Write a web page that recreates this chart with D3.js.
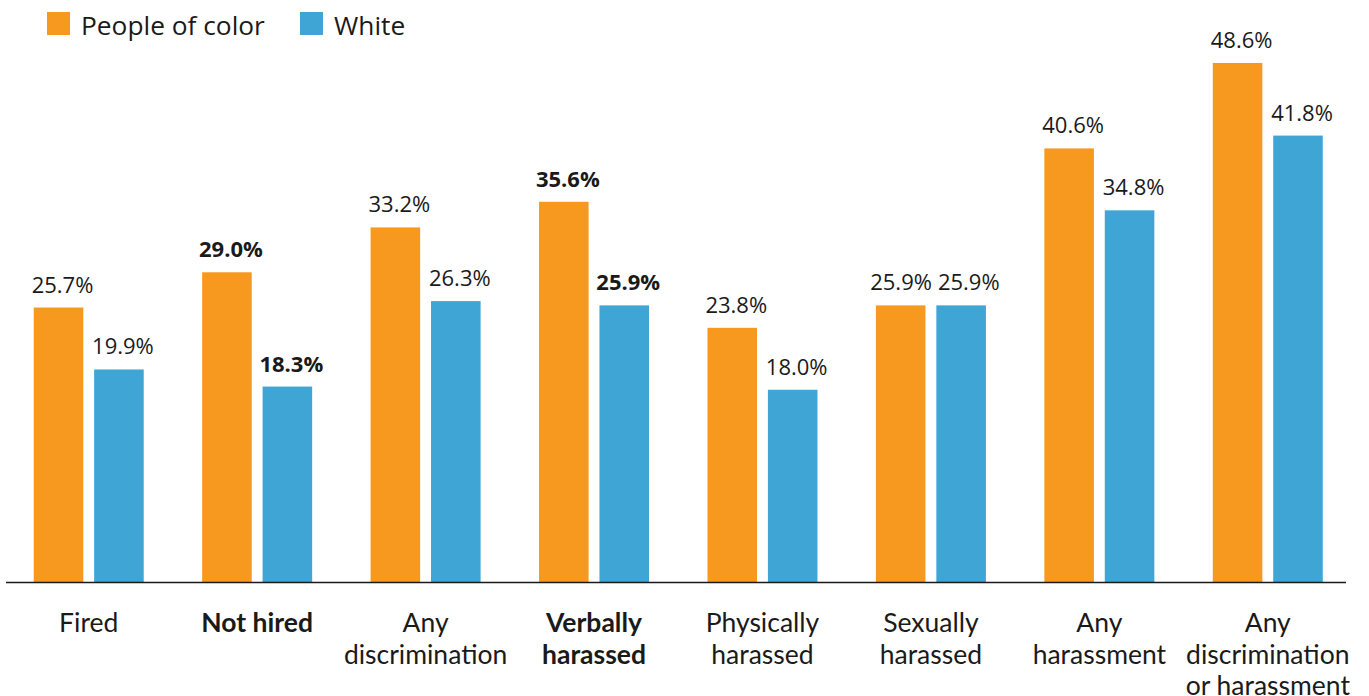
<!DOCTYPE html>
<html>
<head>
<meta charset="utf-8">
<script src="https://cdn.jsdelivr.net/npm/d3@7"></script>
<style>
html,body{margin:0;padding:0;background:#fff;}
svg{display:block;}
</style>
</head>
<body>
<svg id="chart" width="1369" height="696"></svg>
<script>
const categories = [
  ["Fired"],
  ["Not hired"],
  ["Any", "discrimination"],
  ["Verbally", "harassed"],
  ["Physically", "harassed"],
  ["Sexually", "harassed"],
  ["Any", "harassment"],
  ["Any", "discrimination", "or harassment"]
];
const boldCategories = [false, true, false, true, false, false, false, false];
const seriesNames = ["People of color", "White"];
const peopleOfColor = [25.7, 29.0, 33.2, 35.6, 23.8, 25.9, 40.6, 48.6];
const white = [19.9, 18.3, 26.3, 25.9, 18.0, 25.9, 34.8, 41.8];
const boldPOC = [false, true, false, true, false, false, false, false];
const boldWhite = [false, true, false, true, false, false, false, false];
const colors = ["#F7991F", "#3FA5D4"];

const svg = d3.select("#chart");
const baseY = 582;
const y = d3.scaleLinear().domain([0, 50]).range([baseY, baseY - 534]);
const keys = categories.map((c, i) => i);
const x0 = d3.scaleBand().domain(keys).range([4.5, 1352]).paddingInner(0.347).paddingOuter(0.1735);
const x1 = d3.scaleBand().domain([0, 1]).range([0, x0.bandwidth()]).paddingInner(0.18).paddingOuter(0);

const data = keys.map(i => ({
  i,
  vals: [
    {s: 0, v: peopleOfColor[i], b: boldPOC[i]},
    {s: 1, v: white[i], b: boldWhite[i]}
  ]
}));

const g = svg.selectAll("g.grp").data(data).enter().append("g")
  .attr("class", "grp")
  .attr("transform", d => `translate(${x0(d.i)},0)`);

g.selectAll("rect").data(d => d.vals).enter().append("rect")
  .attr("x", d => x1(d.s))
  .attr("width", x1.bandwidth())
  .attr("y", d => y(d.v))
  .attr("height", d => baseY - y(d.v))
  .attr("fill", d => colors[d.s]);

const valTexts = g.selectAll("text.val").data(d => d.vals).enter().append("text")
  .attr("class", "val")
  .attr("x", d => x1(d.s) + x1.bandwidth() / 2 + 4)
  .attr("y", d => y(d.v) - 15)
  .attr("text-anchor", "middle")
  .attr("font-family", "'Open Sans', sans-serif")
  .attr("font-size", 22)
  .attr("font-weight", d => d.b ? 700 : 400)
  .attr("fill", "#1a1a1a")
  .text(d => d.v.toFixed(1) + "%");

// simple collision avoidance between the two labels of a group
g.each(function() {
  const t = d3.select(this).selectAll("text.val").nodes();
  if (t.length < 2) return;
  const a = t[0].getBBox(), b = t[1].getBBox();
  const overlapY = Math.abs(a.y - b.y) < a.height;
  const gap = b.x - (a.x + a.width);
  const minGap = 6;
  if (overlapY && gap < minGap) {
    const shift = (minGap - gap) / 2;
    d3.select(t[0]).attr("x", +d3.select(t[0]).attr("x") - shift);
    d3.select(t[1]).attr("x", +d3.select(t[1]).attr("x") + shift);
  }
});

// axis baseline
svg.append("line")
  .attr("x1", 6).attr("x2", 1346)
  .attr("y1", baseY + 0.5).attr("y2", baseY + 0.5)
  .attr("stroke", "#1a1a1a").attr("stroke-width", 1.5);

// category labels
const labels = svg.selectAll("text.cat").data(keys).enter().append("text")
  .attr("class", "cat")
  .attr("x", i => x0(i) + x0.bandwidth() / 2)
  .attr("y", 632)
  .attr("text-anchor", "middle")
  .attr("font-family", "Lato, sans-serif")
  .attr("font-size", 26.5)
  .attr("font-weight", i => boldCategories[i] ? 700 : 400)
  .attr("fill", "#1a1a1a");
labels.selectAll("tspan").data(i => categories[i].map((t, k) => ({t, k, i}))).enter().append("tspan")
  .attr("x", d => x0(d.i) + x0.bandwidth() / 2)
  .attr("dy", d => d.k === 0 ? 0 : 31.5)
  .text(d => d.t);

// legend
const legendX = [47, 300];
const leg = svg.selectAll("g.leg").data(seriesNames).enter().append("g")
  .attr("class", "leg")
  .attr("transform", (d, i) => `translate(${legendX[i]},12)`);
leg.append("rect").attr("width", 23).attr("height", 23).attr("fill", (d, i) => colors[i]);
leg.append("text").attr("x", 34).attr("y", 23)
  .attr("font-family", "'Open Sans', sans-serif")
  .attr("font-size", 26.3)
  .attr("fill", "#1a1a1a")
  .text(d => d);
</script>
</body>
</html>
